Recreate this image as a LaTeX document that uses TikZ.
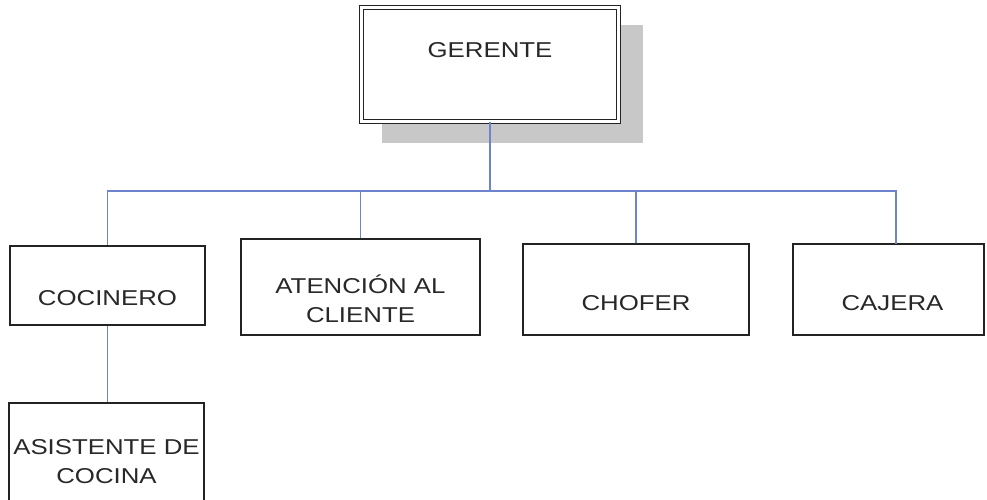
\documentclass[tikz,border=0pt]{standalone}
\usepackage{fontspec}
\setmainfont{Liberation Sans}[FakeStretch=1.2]
\definecolor{linkblue}{RGB}{110,130,205}
\definecolor{boxline}{RGB}{35,35,35}
\definecolor{txt}{RGB}{40,40,40}
\definecolor{shadowgray}{RGB}{200,200,200}
\begin{document}
\begin{tikzpicture}[x=1pt,y=-1pt,
  box/.style={draw=boxline,line width=1.4pt,fill=white,rectangle,inner sep=0pt},
  lbl/.style={text=txt,font=\fontsize{21.5}{29}\selectfont,align=center,inner sep=0pt},
  link/.style={draw=linkblue,line width=1.3pt}]
\useasboundingbox (0,0) rectangle (987,499);
% shadow of top box
\fill[shadowgray] (382,25) rectangle (643,143);
% boxes
\node[box,double,double distance=2.2pt,line width=1.1pt,minimum width=257pt,minimum height=114pt] (ger) at (490,64.5) {};
\node[box,minimum width=195pt,minimum height=79pt] (coc) at (107.5,285.5) {};
\node[box,minimum width=239pt,minimum height=96pt] (ate) at (360.5,287) {};
\node[box,minimum width=226pt,minimum height=91pt] (cho) at (636,289.5) {};
\node[box,minimum width=191pt,minimum height=91pt] (caj) at (888.5,289.5) {};
\node[box,minimum width=195pt,minimum height=117pt] (asi) at (106.5,461.5) {};
% labels
\node[lbl] (gert) at ([yshift=14.5pt]ger.center) {GERENTE};
\node[lbl] (coct) at ([yshift=-12.5pt]coc.center) {COCINERO};
\node[lbl] (atet) at ([yshift=-12pt]ate.center) {ATENCIÓN AL\\CLIENTE};
\node[lbl] (chot) at ([yshift=-13.5pt]cho.center) {CHOFER};
\node[lbl] (cajt) at ([xshift=4pt,yshift=-13.5pt]caj.center) {CAJERA};
\node[lbl] (asit) at (asi.center) {ASISTENTE DE\\COCINA};
% connectors
\coordinate (bus) at (491,191);
\coordinate (cajin) at (896,244);
\draw[link] (ger.south) -- (ger.south |- bus);
\draw[link] (coc.north) |- (ger.south |- bus) -| (cajin);
\draw[link] (ate.north) -- (ate.north |- bus);
\draw[link] (cho.north) -- (cho.north |- bus);
\draw[link] (coc.south) -- (coc.south |- asi.north);
\end{tikzpicture}
\end{document}
